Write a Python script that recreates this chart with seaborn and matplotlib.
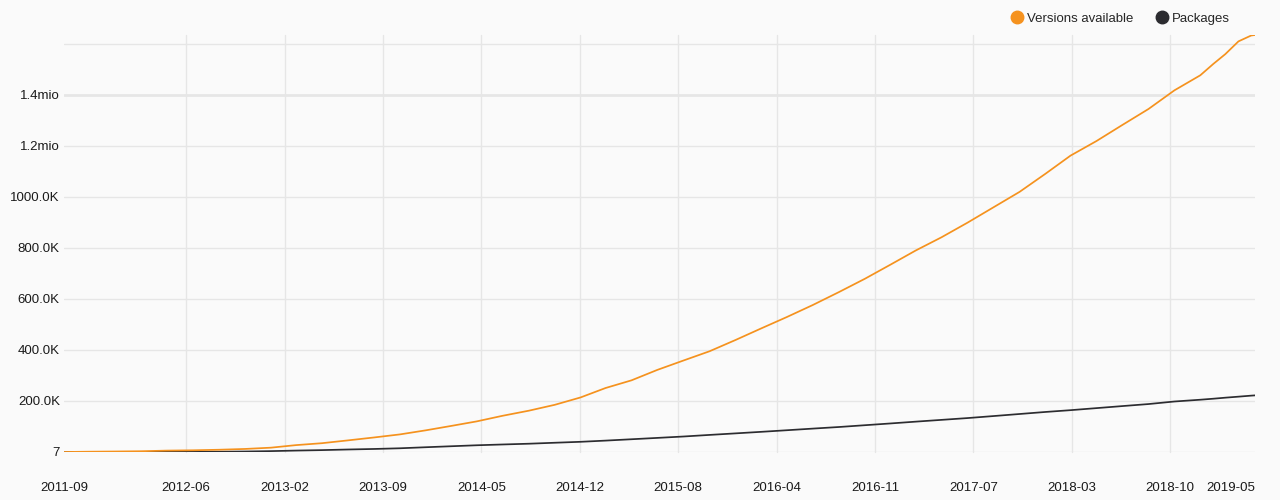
import matplotlib
matplotlib.use("Agg")
import matplotlib.pyplot as plt
import matplotlib.dates as mdates
from matplotlib.lines import Line2D
import pandas as pd
import seaborn as sns

# ---- data ----
dates = [
    "2011-09-01", "2011-11-01", "2012-01-01", "2012-03-01", "2012-05-01", "2012-07-01",
    "2012-09-01", "2012-11-01", "2013-01-01", "2013-03-01", "2013-05-01", "2013-07-01",
    "2013-09-01", "2013-11-01", "2014-01-01", "2014-03-01", "2014-05-01", "2014-07-01",
    "2014-09-01", "2014-11-01", "2015-01-01", "2015-03-01", "2015-05-01", "2015-07-01",
    "2015-09-01", "2015-11-01", "2016-01-01", "2016-03-01", "2016-05-01", "2016-07-01",
    "2016-09-01", "2016-11-01", "2017-01-01", "2017-03-01", "2017-05-01", "2017-07-01",
    "2017-09-01", "2017-11-01", "2018-01-01", "2018-03-01", "2018-05-01", "2018-07-01",
    "2018-09-01", "2018-11-01", "2019-01-01", "2019-02-01", "2019-03-01", "2019-04-01",
    "2019-05-01", "2019-05-10",
]
versions = [
    7, 1200, 2000, 3000, 5500, 6700,
    8900, 12000, 17000, 27000, 34500, 45500,
    57000, 69000, 85000, 102000, 120000, 142000,
    162000, 185000, 214000, 251000, 281000, 322000,
    359000, 395000, 439000, 484000, 529000, 576000,
    627000, 679000, 735000, 790000, 842000, 899000,
    960000, 1020000, 1091000, 1162000, 1219000, 1282000,
    1345000, 1418000, 1477000, 1522000, 1560000, 1610000,
    1633000, 1635000,
]
packages = [
    7, 150, 300, 500, 700, 900,
    1100, 2000, 3500, 5600, 7400, 9800,
    11900, 14600, 18700, 22500, 26400, 29500,
    32500, 36300, 40000, 44700, 50000, 55300,
    60800, 67000, 73000, 79000, 85300, 91700,
    98000, 105000, 112000, 119000, 126000, 133000,
    141000, 149000, 157000, 164000, 172000, 180000,
    188000, 198000, 205000, 209000, 213000, 217000,
    221000, 222000,
]
series_names = ["Versions available", "Packages"]
series_colors = ["#f5921e", "#2c2c30"]

y_ticks = [7, 200000, 400000, 600000, 800000, 1000000, 1200000, 1400000, 1600000]
y_tick_labels = ["7", "200.0K", "400.0K", "600.0K", "800.0K", "1000.0K", "1.2mio", "1.4mio", ""]
x_tick_start = "2012-06-15"
x_tick_step_days = 232
x_tick_count = 11

# ---- build long-form frame ----
df = pd.DataFrame({
    "date": pd.to_datetime(dates * 2),
    "value": versions + packages,
    "series": [series_names[0]] * len(dates) + [series_names[1]] * len(dates),
})

sns.set_theme(style="white")
plt.rcParams["font.family"] = ["Liberation Sans", "DejaVu Sans"]

bg = "#fafafa"
grid_c = "#e6e6e6"
text_c = "#1a1a1a"

fig = plt.figure(figsize=(12.8, 5.0), dpi=100, facecolor=bg)
ax = fig.add_axes([64 / 1280, 1 - 452 / 500, (1255 - 64) / 1280, (452 - 35) / 500])
ax.set_facecolor(bg)

sns.lineplot(data=df, x="date", y="value", hue="series",
             palette=dict(zip(series_names, series_colors)),
             hue_order=series_names[::-1], linewidth=1.25, ax=ax, legend=False)

# axes limits
d0 = pd.to_datetime(dates[0])
d1 = pd.to_datetime(dates[-1])
ax.set_xlim(d0, d1)
ax.set_ylim(y_ticks[0], max(versions))

# x ticks: evenly spaced in time, plus boundary labels
major = pd.date_range(x_tick_start, periods=x_tick_count, freq=f"{x_tick_step_days}D")
ax.set_xticks(major)
ax.set_xticks([d0, d1], minor=True)
fmt = mdates.DateFormatter("%Y-%m")
ax.xaxis.set_major_formatter(fmt)
ax.xaxis.set_minor_formatter(fmt)
ax.tick_params(axis="x", which="major", length=6, width=1, color=grid_c,
               labelsize=9.5, pad=15.5, labelcolor=text_c, direction="out")
ax.tick_params(axis="x", which="minor", length=6, width=0, color=bg,
               labelsize=9.5, pad=15.5, labelcolor=text_c, direction="out")
minor_labels = ax.xaxis.get_minorticklabels()
minor_labels[-1].set_ha("right")

ax.set_yticks(y_ticks)
ax.set_yticklabels(y_tick_labels)
ax.tick_params(axis="y", length=0, labelsize=9.5, pad=3, labelcolor=text_c)

ax.grid(True, which="major", color=grid_c, linewidth=1.0)
for gl, yv in zip(ax.get_ygridlines(), y_ticks):
    if yv == 1400000:
        gl.set_linewidth(2.0)
for gl in ax.get_xgridlines():
    gl.set_clip_on(False)

for s in ax.spines.values():
    s.set_visible(False)
ax.set_xlabel("")
ax.set_ylabel("")

handles = [Line2D([], [], marker="o", linestyle="none", markersize=9,
                  markerfacecolor=c, markeredgecolor=c) for c in series_colors]
fig.legend(handles, series_names, loc="center right", bbox_to_anchor=(1230 / 1280, 1 - 19 / 500),
           ncol=2, frameon=False, fontsize=9.5, handletextpad=0.27, columnspacing=1.63,
           handlelength=1.0, borderpad=0, borderaxespad=0)

fig.savefig("out.png", dpi=100, facecolor=bg)
